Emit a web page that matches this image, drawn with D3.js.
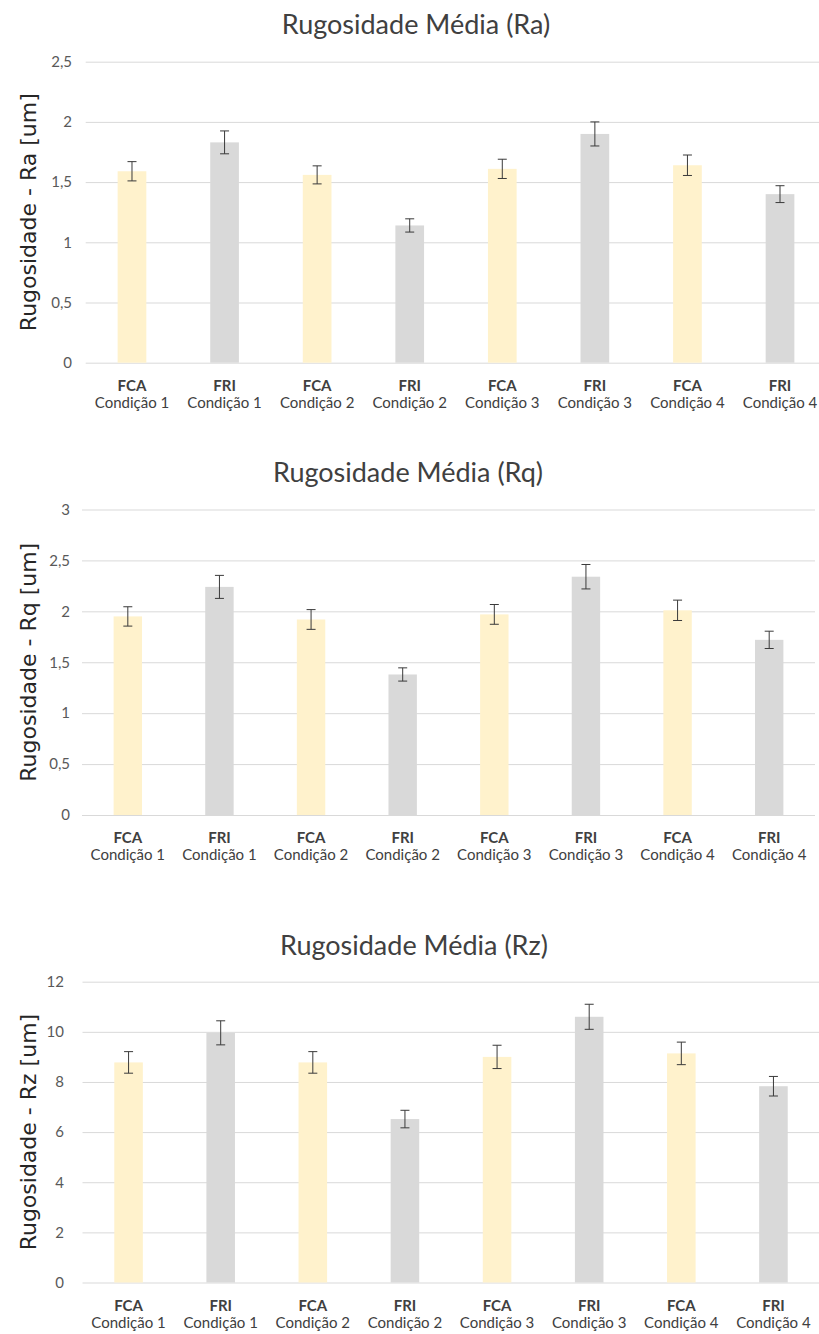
<!DOCTYPE html>
<html>
<head>
<meta charset="utf-8">
<script src="https://cdn.jsdelivr.net/npm/d3@7"></script>
<style>
  body { margin: 0; background: #fff; }
  svg { display: block; }
</style>
</head>
<body>
<div id="chart"></div>
<script>
// Categories (two label lines under each bar)
var seriesLabels = ["FCA", "FRI", "FCA", "FRI", "FCA", "FRI", "FCA", "FRI"];
var conditionLabels = ["Condição 1", "Condição 1", "Condição 2", "Condição 2",
                       "Condição 3", "Condição 3", "Condição 4", "Condição 4"];

// Ra
var raValues = [1.59, 1.83, 1.56, 1.14, 1.61, 1.90, 1.64, 1.40];
var raErrors = [0.08, 0.095, 0.075, 0.055, 0.08, 0.10, 0.085, 0.07];
var raTicks = [0, 0.5, 1, 1.5, 2, 2.5];

// Rq
var rqValues = [1.95, 2.24, 1.92, 1.38, 1.97, 2.34, 2.01, 1.72];
var rqErrors = [0.095, 0.113, 0.097, 0.065, 0.097, 0.12, 0.10, 0.085];
var rqTicks = [0, 0.5, 1, 1.5, 2, 2.5, 3];

// Rz
var rzValues = [8.78, 9.96, 8.78, 6.52, 9.0, 10.6, 9.14, 7.83];
var rzErrors = [0.43, 0.48, 0.43, 0.35, 0.465, 0.5, 0.45, 0.39];
var rzTicks = [0, 2, 4, 6, 8, 10, 12];

var attrs = {
    svgWidth: 819,
    svgHeight: 1334,
    fcaColor: '#fff2cc',
    friColor: '#d9d9d9',
    gridColor: '#d9d9d9',
    errorColor: '#3a3a3a',
    tickColor: '#595959',
    labelColor: '#404040',
    titleColor: '#404040',
    yTitleColor: '#262626',
    font: 'Lato, "Open Sans", sans-serif',
    yTitleFont: '"DejaVu Sans", Verdana, sans-serif'
};

// one entry per panel, layout
var panels = [
    { title: "Rugosidade Média (Ra)", yLabel: "Rugosidade - Ra [um]",
      values: raValues, errors: raErrors, ticks: raTicks,
      top: 61.7, bottom: 362.7, left: 85.7, right: 826.3, tickX: 72, titleX: 416, titleY: 34 },
    { title: "Rugosidade Média (Rq)", yLabel: "Rugosidade - Rq [um]",
      values: rqValues, errors: rqErrors, ticks: rqTicks,
      top: 509.5, bottom: 815, left: 82, right: 815, tickX: 70, titleX: 408, titleY: 482 },
    { title: "Rugosidade Média (Rz)", yLabel: "Rugosidade - Rz [um]",
      values: rzValues, errors: rzErrors, ticks: rzTicks,
      top: 981.7, bottom: 1282.5, left: 82.5, right: 819.5, tickX: 64, titleX: 414, titleY: 955 }
];

var ptBR = d3.formatLocale({ decimal: ",", thousands: ".", grouping: [3], currency: ["R$", ""] });
var fmt = ptBR.format("~g");

var svg = d3.select('#chart').append('svg')
    .attr('width', attrs.svgWidth)
    .attr('height', attrs.svgHeight)
    .attr('font-family', attrs.font);

svg.append('rect')
    .attr('width', attrs.svgWidth)
    .attr('height', attrs.svgHeight)
    .attr('fill', '#fff');

panels.forEach(function (p) {
    var g = svg.append('g');

    var x = d3.scaleBand()
        .domain(d3.range(p.values.length))
        .range([p.left, p.right])
        .paddingInner(0.69)
        .paddingOuter(0.345);

    var y = d3.scaleLinear()
        .domain([0, d3.max(p.ticks)])
        .range([p.bottom, p.top]);

    // gridlines + tick labels
    var yAxis = d3.axisLeft(y)
        .tickValues(p.ticks)
        .tickFormat(fmt)
        .tickSize(-(p.right - p.left))
        .tickPadding(p.left - p.tickX);

    var axisG = g.append('g')
        .attr('transform', 'translate(' + p.left + ',0)')
        .call(yAxis);
    axisG.select('.domain').remove();
    axisG.selectAll('.tick line')
        .attr('stroke', attrs.gridColor)
        .attr('stroke-width', 1);
    axisG.selectAll('.tick text')
        .attr('fill', attrs.tickColor)
        .attr('font-family', attrs.font)
        .attr('font-size', 15);

    // bars
    g.selectAll('.bar')
        .data(p.values)
        .enter().append('rect')
        .attr('class', 'bar')
        .attr('x', function (d, i) { return x(i); })
        .attr('y', function (d) { return y(d); })
        .attr('width', x.bandwidth())
        .attr('height', function (d) { return y(0) - y(d); })
        .attr('fill', function (d, i) { return seriesLabels[i] === 'FCA' ? attrs.fcaColor : attrs.friColor; });

    // error bars
    var cap = 4.5;
    var err = g.selectAll('.err')
        .data(p.values)
        .enter().append('g')
        .attr('class', 'err')
        .attr('stroke', attrs.errorColor)
        .attr('stroke-width', 1);
    err.append('line')
        .attr('x1', function (d, i) { return x(i) + x.bandwidth() / 2; })
        .attr('x2', function (d, i) { return x(i) + x.bandwidth() / 2; })
        .attr('y1', function (d, i) { return y(d + p.errors[i]); })
        .attr('y2', function (d, i) { return y(d - p.errors[i]); });
    [1, -1].forEach(function (s) {
        err.append('line')
            .attr('x1', function (d, i) { return x(i) + x.bandwidth() / 2 - cap; })
            .attr('x2', function (d, i) { return x(i) + x.bandwidth() / 2 + cap; })
            .attr('y1', function (d, i) { return y(d + s * p.errors[i]); })
            .attr('y2', function (d, i) { return y(d + s * p.errors[i]); });
    });

    // category labels
    var lab = g.selectAll('.cat')
        .data(p.values)
        .enter().append('text')
        .attr('class', 'cat')
        .attr('text-anchor', 'middle')
        .attr('fill', attrs.labelColor)
        .attr('font-size', 15);
    lab.append('tspan')
        .attr('x', function (d, i) { return x(i) + x.bandwidth() / 2; })
        .attr('y', y(0) + 28)
        .attr('font-weight', 'bold')
        .text(function (d, i) { return seriesLabels[i]; });
    lab.append('tspan')
        .attr('x', function (d, i) { return x(i) + x.bandwidth() / 2; })
        .attr('y', y(0) + 45)
        .text(function (d, i) { return conditionLabels[i]; });

    // chart title
    g.append('text')
        .attr('x', p.titleX)
        .attr('y', p.titleY)
        .attr('text-anchor', 'middle')
        .attr('fill', attrs.titleColor)
        .attr('font-size', 27)
        .text(p.title);

    // y axis title
    g.append('text')
        .attr('transform', 'translate(36,' + ((p.top + p.bottom) / 2) + ') rotate(-90)')
        .attr('text-anchor', 'middle')
        .attr('fill', attrs.yTitleColor)
        .attr('font-family', attrs.yTitleFont)
        .attr('font-size', 22)
        .text(p.yLabel);
});
</script>
</body>
</html>
